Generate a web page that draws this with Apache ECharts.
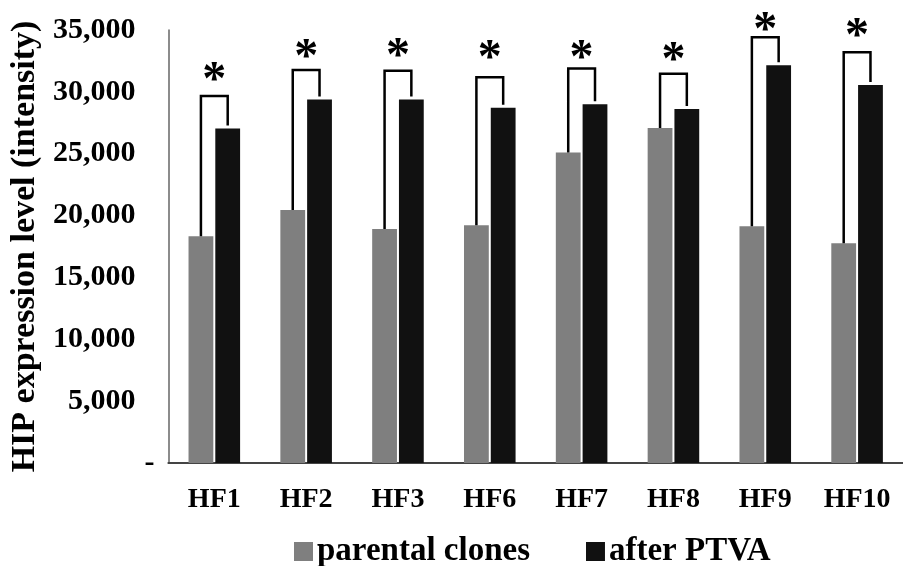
<!DOCTYPE html>
<html>
<head>
<meta charset="utf-8">
<script src="https://cdn.jsdelivr.net/npm/echarts@6/dist/echarts.min.js"></script>
<style>html,body{margin:0;padding:0;background:#fff}#c{width:903px;height:566px}</style>
</head>
<body>
<div id="c"></div>
<script>
const categories = ['HF1', 'HF2', 'HF3', 'HF6', 'HF7', 'HF8', 'HF9', 'HF10'];
const parentalClones = [18320, 20450, 18920, 19210, 25090, 27080, 19130, 17760];
const afterPTVA = [27030, 29390, 29390, 28720, 28990, 28620, 32160, 30550];
const bracketTop = [29660, 31760, 31700, 31190, 31890, 31460, 34420, 33210];
const starLevel = [31510, 33370, 33420, 33230, 33230, 33130, 35545, 35060];
const yTicks = { min: 0, max: 35000, interval: 5000 };

const FONT = '"Liberation Serif", "Times New Roman", serif';
const chart = echarts.init(document.getElementById('c'));

const bracketData = categories.map((c, i) => [i, parentalClones[i], afterPTVA[i], bracketTop[i], starLevel[i]]);

chart.setOption({
  animation: false,
  backgroundColor: '#fff',
  grid: { left: 166, top: 30, width: 748, height: 433, containLabel: false },
  legend: {
    left: 289, top: 530,
    itemWidth: 19, itemHeight: 19, itemGap: 56,
    icon: 'rect',
    textStyle: { fontFamily: FONT, fontWeight: 'bold', fontSize: 33, color: '#000', padding: [0, 0, 0, -1] },
    data: ['parental clones', 'after PTVA']
  },
  xAxis: {
    type: 'category',
    data: categories,
    axisLine: { show: true, lineStyle: { color: '#444', width: 2 } },
    axisTick: { show: false },
    axisLabel: { interval: 0, margin: 23, fontFamily: FONT, fontWeight: 'bold', fontSize: 28, color: '#000' },
    splitLine: { show: false }
  },
  yAxis: {
    type: 'value',
    min: yTicks.min, max: yTicks.max, interval: yTicks.interval,
    name: 'HIP expression level (intensity)',
    nameLocation: 'middle', nameRotate: 90, nameGap: 121,
    nameTextStyle: { fontFamily: FONT, fontWeight: 'bold', fontSize: 34, color: '#000' },
    axisLine: { show: true, lineStyle: { color: '#666', width: 1.5 } },
    axisTick: { show: false },
    splitLine: { show: false },
    axisLabel: {
      margin: 14,
      formatter: v => v === 0 ? '{z|-}' : '{n|' + v.toLocaleString('en-US') + '}',
      rich: {
        n: { fontFamily: FONT, fontWeight: 'bold', fontSize: 30, color: '#000', padding: [0, 19, 0, 0] },
        z: { fontFamily: FONT, fontWeight: 'bold', fontSize: 30, color: '#000' }
      }
    }
  },
  series: [
    { name: 'parental clones', type: 'bar', data: parentalClones, barWidth: '27%', barGap: '8%',
      itemStyle: { color: '#7f7f7f' } },
    { name: 'after PTVA', type: 'bar', data: afterPTVA, barWidth: '27%', barGap: '8%',
      itemStyle: { color: '#111111' } },
    {
      type: 'custom', silent: true, data: bracketData, z: 5, clip: false,
      renderItem: function (params, api) {
        const i = api.value(0);
        const cx = api.coord([i, 0])[0];
        const bw = api.size([1, 0])[0];
        const off = bw * 0.27 * 1.08 / 2;
        const xg = cx - off, xb = cx + off;
        const yg = api.coord([i, api.value(1)])[1];
        const yb = api.coord([i, api.value(2)])[1] - 3;
        const yt = api.coord([i, api.value(3)])[1];
        const ys = api.coord([i, api.value(4)])[1];
        return {
          type: 'group',
          children: [
            { type: 'polyline', shape: { points: [[xg, yg], [xg, yt], [xb, yt], [xb, yb]] },
              style: { stroke: '#000', lineWidth: 2.5, fill: null } },
            { type: 'text', style: { text: '*', x: cx, y: ys + 8, align: 'center', verticalAlign: 'middle',
              font: 'bold 48px ' + FONT, fill: '#000' } }
          ]
        };
      }
    }
  ]
});
</script>
</body>
</html>
